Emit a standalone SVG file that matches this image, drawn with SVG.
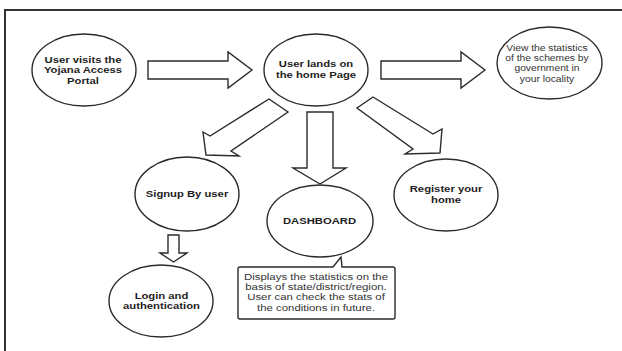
<svg xmlns="http://www.w3.org/2000/svg" width="622" height="351" viewBox="0 0 622 351">
<style>
.node{fill:#ffffff;stroke:#2b2b2b;stroke-width:1.4}
.arrow{fill:#ffffff;stroke:#2b2b2b;stroke-width:1.4;stroke-linejoin:miter}
.frame{fill:none;stroke:#333333;stroke-width:2}
.b{font-family:"Liberation Sans",Arial,sans-serif;font-weight:bold;font-size:8.8px;fill:#1e1e1e;text-anchor:middle}
.r{font-family:"Liberation Sans",Arial,sans-serif;font-size:8.8px;fill:#333333;text-anchor:middle}
</style>
<rect x="0" y="0" width="622" height="351" fill="#ffffff"/>
<path class="frame" d="M5,351 L5,10 L622,10"/>

<g id="connectors">
  <polygon class="arrow" points="148,61 228,61 228,52 252,70 228,88 228,79 148,79"/>
  <polygon class="arrow" points="381,61 461,61 461,52 485,70 461,88 461,79 381,79"/>
  <polygon class="arrow" points="269,99 210,136 203,132 206,155 239,156 231,151 288,112"/>
  <polygon class="arrow" points="307,112 333,112 333,168 346,168 320,184 293,168 307,168"/>
  <polygon class="arrow" points="373,97 433,134 442,129 440,153 405,154 413,149 357,108"/>
  <polygon class="arrow" points="168,235 179,235 179,253 187,253 173.5,262 160,253 168,253"/>
</g>

<g id="node-visit">
  <ellipse class="node" cx="84" cy="70" rx="52" ry="36"/>
  <text class="b" transform="translate(83,63) scale(1.28,1)">User visits the</text>
  <text class="b" transform="translate(83,73.3) scale(1.28,1)">Yojana Access</text>
  <text class="b" transform="translate(83,83.6) scale(1.28,1)">Portal</text>
</g>

<g id="node-home">
  <ellipse class="node" cx="316" cy="70" rx="52" ry="36"/>
  <text class="b" transform="translate(316,67.3) scale(1.28,1)">User lands on</text>
  <text class="b" transform="translate(316,77.6) scale(1.28,1)">the home Page</text>
</g>

<g id="node-stats">
  <ellipse class="node" cx="549.5" cy="63" rx="52.5" ry="36"/>
  <text class="r" transform="translate(547,50.8) scale(1.17,1)">View the statistics</text>
  <text class="r" transform="translate(547,61.1) scale(1.17,1)">of the schemes by</text>
  <text class="r" transform="translate(547,71.4) scale(1.17,1)">government in</text>
  <text class="r" transform="translate(547,81.7) scale(1.17,1)">your locality</text>
</g>

<g id="node-signup">
  <ellipse class="node" cx="187" cy="194" rx="52" ry="37"/>
  <text class="b" transform="translate(187,197.3) scale(1.28,1)">Signup By user</text>
</g>

<g id="node-dashboard">
  <ellipse class="node" cx="320" cy="221" rx="53" ry="36"/>
  <text class="b" transform="translate(319.5,224.3) scale(1.28,1)">DASHBOARD</text>
</g>

<g id="node-register">
  <ellipse class="node" cx="446" cy="195" rx="52" ry="36"/>
  <text class="b" transform="translate(446,192.3) scale(1.28,1)">Register your</text>
  <text class="b" transform="translate(446,202.6) scale(1.28,1)">home</text>
</g>

<g id="node-login">
  <ellipse class="node" cx="161" cy="301" rx="52" ry="36"/>
  <text class="b" transform="translate(161.5,299) scale(1.28,1)">Login and</text>
  <text class="b" transform="translate(161.5,309.3) scale(1.28,1)">authentication</text>
</g>

<g id="note-dashboard">
  <path class="node" d="M240,267 L333,267 L341,257 L342,267 L393,267 Q395,267 395,269 L395,317 Q395,319 393,319 L240,319 Q238,319 238,317 L238,269 Q238,267 240,267 Z"/>
  <text class="r" transform="translate(316,279.8) scale(1.3,1)">Displays the statistics on the</text>
  <text class="r" transform="translate(316,290.1) scale(1.3,1)">basis of state/district/region.</text>
  <text class="r" transform="translate(316,300.4) scale(1.3,1)">User can check the stats of</text>
  <text class="r" transform="translate(316,310.7) scale(1.3,1)">the conditions in future.</text>
</g>
</svg>
